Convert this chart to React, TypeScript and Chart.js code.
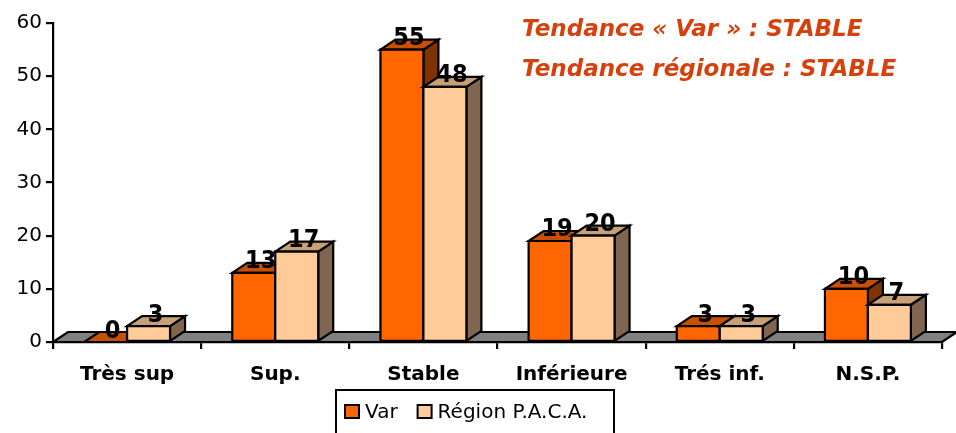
import React, { useEffect, useRef } from 'react';
import { Chart, registerables } from 'chart.js';

Chart.register(...registerables);

const categories = ['Très sup', 'Sup.', 'Stable', 'Inférieure', 'Trés inf.', 'N.S.P.'];
const varValues = [0, 13, 55, 19, 3, 10];
const pacaValues = [3, 17, 48, 20, 3, 7];
const seriesLabels = ['Var', 'Région P.A.C.A.'];
const yMax = 60;
const yStep = 10;
const titleLines = ['Tendance « Var » : STABLE', 'Tendance régionale : STABLE'];

const FONT = '"DejaVu Sans", sans-serif';
const LABEL_FONT = '"DejaVu Sans Condensed", "DejaVu Sans", sans-serif';
const DX = 15;
const DY = 10;
const frontColors = ['#FF6600', '#FFCC99'];
const topColors = ['#C85000', '#C8A078'];
const sideColors = ['#7F3300', '#806650'];
const titleColor = '#D6400C';
const LW = 2.2;

function poly(ctx: CanvasRenderingContext2D, pts: number[][], fill: string) {
  ctx.beginPath();
  ctx.moveTo(pts[0][0], pts[0][1]);
  for (let i = 1; i < pts.length; i++) ctx.lineTo(pts[i][0], pts[i][1]);
  ctx.closePath();
  ctx.fillStyle = fill;
  ctx.fill();
  ctx.stroke();
}

const threeD = {
  id: 'threeD',
  beforeDatasetsDraw(chart: any) {
    const { ctx, chartArea: a } = chart;
    ctx.save();
    ctx.lineWidth = LW;
    ctx.strokeStyle = '#000';
    ctx.lineJoin = 'miter';
    poly(ctx, [[a.left, a.bottom], [a.right, a.bottom], [a.right + DX, a.bottom - DY], [a.left + DX, a.bottom - DY]], '#808080');
    const n = chart.data.labels.length;
    for (let i = 0; i < n; i++) {
      for (let d = 0; d < chart.data.datasets.length; d++) {
        const el = chart.getDatasetMeta(d).data[i];
        const { x, y, base, width } = el.getProps(['x', 'y', 'base', 'width'], true);
        const l = x - width / 2;
        const r = x + width / 2;
        poly(ctx, [[r, y], [r + DX, y - DY], [r + DX, base - DY], [r, base]], sideColors[d]);
        poly(ctx, [[l, y], [r, y], [r + DX, y - DY], [l + DX, y - DY]], topColors[d]);
        if (base - y > 0.5) poly(ctx, [[l, y], [r, y], [r, base], [l, base]], frontColors[d]);
      }
    }
    ctx.restore();
  },
  afterDatasetsDraw(chart: any) {
    const { ctx } = chart;
    ctx.save();
    ctx.font = `bold 25px ${LABEL_FONT}`;
    ctx.fillStyle = '#000';
    ctx.textAlign = 'center';
    ctx.textBaseline = 'middle';
    chart.data.datasets.forEach((ds: any, d: number) => {
      chart.getDatasetMeta(d).data.forEach((el: any, i: number) => {
        const { x, y } = el.getProps(['x', 'y'], true);
        ctx.fillText(String(ds.data[i]), x + 7, y - 11);
      });
    });
    ctx.restore();
  },
  afterDraw(chart: any) {
    const { ctx } = chart;
    ctx.save();
    // title
    ctx.font = `italic bold 23px ${FONT}`;
    ctx.fillStyle = titleColor;
    ctx.textAlign = 'left';
    ctx.textBaseline = 'middle';
    ctx.fillText(titleLines[0], 522, 30);
    ctx.fillText(titleLines[1], 522, 70);
    // legend
    ctx.lineWidth = 2;
    ctx.strokeStyle = '#000';
    ctx.strokeRect(336, 390, 278, 60);
    ctx.font = `20px ${FONT}`;
    let lx = 345;
    chart.data.datasets.forEach((ds: any, d: number) => {
      ctx.fillStyle = frontColors[d];
      ctx.fillRect(lx, 405, 14, 13);
      ctx.strokeRect(lx, 405, 14, 13);
      ctx.fillStyle = '#000';
      ctx.fillText(ds.label, lx + 20, 413);
      lx += 20 + ctx.measureText(ds.label).width + 20;
    });
    ctx.restore();
  },
};

export default function App() {
  const ref = useRef<HTMLCanvasElement>(null);
  useEffect(() => {
    if (!ref.current) return;
    const chart = new Chart(ref.current, {
      type: 'bar',
      data: {
        labels: categories,
        datasets: [
          { label: seriesLabels[0], data: varValues, backgroundColor: 'rgba(0,0,0,0)', borderWidth: 0 },
          { label: seriesLabels[1], data: pacaValues, backgroundColor: 'rgba(0,0,0,0)', borderWidth: 0 },
        ],
      },
      options: {
        animation: false,
        responsive: false,
        maintainAspectRatio: false,
        layout: { padding: { top: 23, right: 14, bottom: 0, left: 0 } },
        datasets: { bar: { categoryPercentage: 0.58, barPercentage: 1 } },
        plugins: { legend: { display: false }, tooltip: { enabled: false }, title: { display: false } },
        scales: {
          x: {
            grid: { display: true, drawOnChartArea: false, drawTicks: true, tickLength: 7, color: '#000', lineWidth: LW, offset: true },
            border: { display: true, color: '#000', width: LW },
            ticks: { color: '#000', font: { family: FONT, size: 20, weight: 'bold' }, padding: 14, maxRotation: 0 },
            afterFit: (s: any) => { s.height = 91; },
          },
          y: {
            min: 0,
            max: yMax,
            ticks: { stepSize: yStep, color: '#000', font: { family: FONT, size: 20 }, padding: 4 },
            grid: { display: true, drawOnChartArea: false, drawTicks: true, tickLength: 7, color: '#000', lineWidth: LW },
            border: { display: true, color: '#000', width: LW },
            afterFit: (s: any) => { s.width = 53; },
          },
        },
      },
      plugins: [threeD],
    });
    return () => chart.destroy();
  }, []);
  return (
    <div style={{ position: 'fixed', left: 0, top: 0, width: 956, height: 433, background: '#fff' }}>
      <canvas ref={ref} width={956} height={433} style={{ display: 'block' }} />
    </div>
  );
}
